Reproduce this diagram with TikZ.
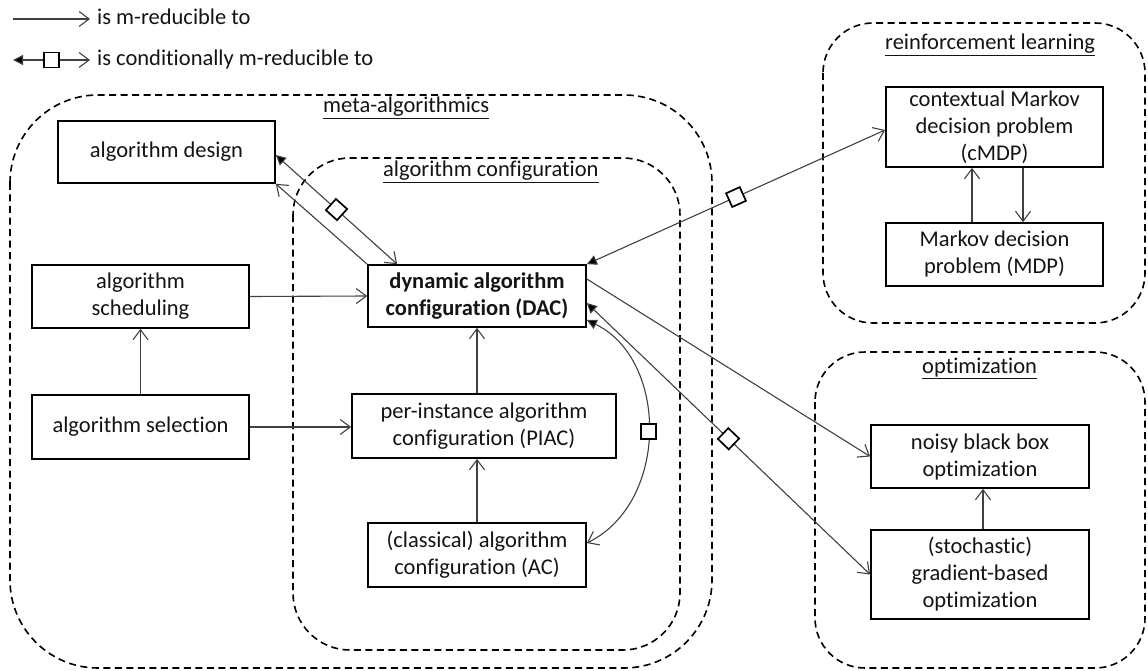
\documentclass[tikz,border=0pt]{standalone}
\usepackage{fontspec}
\setmainfont{Carlito}[Ligatures=NoCommon]
\usetikzlibrary{arrows.meta,calc}
\definecolor{conn}{RGB}{64,64,64}
\definecolor{txt}{RGB}{20,20,20}
\begin{document}
\begin{tikzpicture}[x=1pt,y=-1pt,
  font=\fontsize{22.5}{27}\selectfont, text=txt,
  box/.style={draw=black, line width=1.7pt, rectangle, align=center, inner sep=0pt},
  region/.style={draw=black, line width=1.6pt, dash pattern=on 7pt off 4.5pt},
  ar/.style={draw=conn, line width=1.1pt, -{Straight Barb[length=10pt,width=15pt,line width=1.1pt]}},
  car/.style={draw=conn, line width=1.1pt, {Triangle[length=10pt,width=10pt,fill=black]}-{Straight Barb[length=10pt,width=15pt,line width=1.1pt]}},
  marker/.style={draw=black, fill=white, line width=1.7pt, minimum size=15pt, inner sep=0pt, sloped, pos=0.5},
  title/.style={anchor=base west, inner sep=0pt}
]
\useasboundingbox (0,0) rectangle (1148,671);

% regions
\draw[region, rounded corners=88pt] (10,95) rectangle (712,668);
\draw[region, rounded corners=57pt] (293,158) rectangle (680,650);
\draw[region, rounded corners=50pt] (823,23) rectangle (1145,323);
\draw[region, rounded corners=50pt] (815,352) rectangle (1145,668);

\node[title] (tmeta) at (323,113) {\underline{meta-algorithmics}};
\node[title] (tconf) at (383,177) {\underline{algorithm configuration}};
\node[title] (trl) at (885,50) {\underline{reinforcement learning}};
\node[title] (topt) at (922,373) {\underline{optimization}};

% legend
\coordinate (l1a) at (13,19);
\coordinate (l1b) at (90,19);
\coordinate (l2a) at (13,60);
\coordinate (l2b) at (90,60);
\draw[ar] (l1a) -- (l1b);
\draw[car] (l2a) -- (l2b) node[marker] (lm) {};
\node[title] (lt1) at (97,25) {is m-reducible to};
\node[title] (lt2) at (97,66) {is conditionally m-reducible to};

% nodes
\node[box, minimum width=217pt, minimum height=62pt] (design) at (166.5,152) {algorithm design};
\node[box, minimum width=217pt, minimum height=63pt] (sched) at (140.5,296.5) {algorithm\\scheduling};
\node[box, minimum width=217pt, minimum height=64pt] (select) at (140.5,427) {algorithm selection};
\node[box, minimum width=218pt, minimum height=62pt, font=\fontsize{22.5}{27}\selectfont\bfseries] (DAC) at (477,296) {dynamic algorithm\\configuration\ (DAC)};
\node[box, minimum width=264pt, minimum height=64pt] (PIAC) at (484,426) {per-instance algorithm\\configuration (PIAC)};
\node[box, minimum width=218pt, minimum height=64pt] (AC) at (477,555) {(classical) algorithm\\configuration (AC)};
\node[box, minimum width=217pt, minimum height=80pt] (cMDP) at (994.5,127) {contextual Markov\\decision problem\\(cMDP)};
\node[box, minimum width=217pt, minimum height=63pt] (MDP) at (994.5,254.5) {Markov decision\\problem (MDP)};
\node[box, minimum width=218pt, minimum height=63pt] (noisy) at (980,456.5) {noisy black box\\optimization};
\node[box, minimum width=218pt, minimum height=89pt] (grad) at (980,574.5) {(stochastic)\\gradient-based\\optimization};

% m-reductions
\draw[ar] (sched.east) -- (DAC.west);
\draw[ar] (select.east) -- (select.east -| PIAC.west);
\draw[ar] (select.north) -- (sched.south);
\draw[ar] (PIAC.north -| DAC.south) -- (DAC.south);
\draw[ar] (AC.north) -- (AC.north |- PIAC.south);
\draw[ar] (DAC.north west) -- (design.south east);
\draw[ar] ($(DAC.east)+(0,-17)$) -- (noisy.west);
\draw[ar] ($(MDP.north)+(-22.5,0)$) -- ($(cMDP.south)+(-22.5,0)$);
\draw[ar] ($(cMDP.south)+(28.5,0)$) -- ($(MDP.north)+(28.5,0)$);
\draw[ar] (grad.north -| 983,0) -- (noisy.south -| 983,0);

% conditional m-reductions
\draw[car] ($(design.east)+(0,3)$) -- ($(DAC.north west)+(30,0)$) node[marker] (m1) {};
\draw[car] (DAC.north east) -- ($(cMDP.west)+(0,3)$) node[marker] (m2) {};
\draw[car] ($(DAC.east)+(0,7)$) -- (grad.west) node[marker] (m3) {};
\draw[car] ($(DAC.east)+(0,24)$) .. controls +(82,40) and +(82,-40) .. ($(AC.east)+(0,-12)$) node[marker] (m4) {};
\end{tikzpicture}
\end{document}
